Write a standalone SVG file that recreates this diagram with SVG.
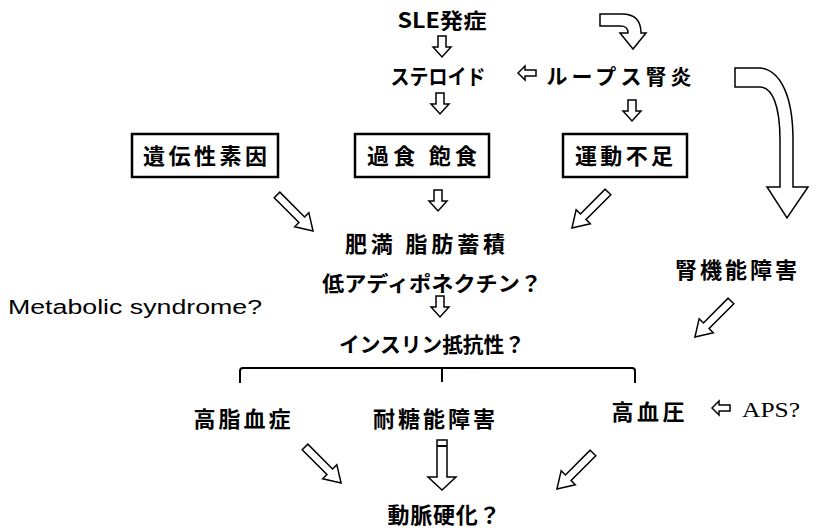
<svg xmlns="http://www.w3.org/2000/svg" xmlns:xlink="http://www.w3.org/1999/xlink" width="818" height="528" viewBox="0 0 818 528">
<style>
.t{font-family:"Noto Sans CJK JP","Liberation Sans",sans-serif;font-weight:bold;font-size:21px;fill:#000;text-anchor:middle}
.k{font-size:22px}
.e{font-family:"Liberation Sans",sans-serif;font-size:20px;fill:#000}
.s{font-family:"Liberation Serif",serif;font-size:21px;fill:#000}
.box{fill:#fff;stroke:#000;stroke-width:2.5}
.ar{fill:#fff;stroke:#000;stroke-width:1.5;stroke-linejoin:miter}
.ln{fill:none;stroke:#000;stroke-width:2}
</style>
<defs>
<path id="dn" d="M-4,0 H4 V11 H9 L0,21 L-9,11 H-4 Z"/>
<path id="lf" d="M0,0 L7,-7 V-3 H18 V3 H7 V7 Z"/>
<path id="dg" d="M-4,0 H4 V35 H10 L0,51 L-10,35 H-4 Z"/>
</defs>
<rect width="818" height="528" fill="#fff"/>
<g id="connectors">
<use xlink:href="#dn" class="ar" x="442" y="36"/>
<use xlink:href="#dn" class="ar" x="440" y="93"/>
<use xlink:href="#dn" class="ar" x="632" y="100"/>
<use xlink:href="#dn" class="ar" x="438" y="190"/>
<use xlink:href="#dn" class="ar" x="440" y="296"/>
<use xlink:href="#lf" class="ar" x="518" y="73"/>
<use xlink:href="#lf" class="ar" x="712" y="408"/>
<path class="ar" d="M600,14 L622,14 C636,14 641,22 641,33 L646,33 L633,49 L620,33 L628,33 C628,28 626,26 620,26 L600,26 Z"/>
<path class="ar" d="M735,68 L760,68 C780,70 793,95 793,140 L793,187 L808,187 L787,218 L767,187 L780,187 L780,140 C780,105 772,87 760,87 L735,87 Z"/>
<use xlink:href="#dg" class="ar" transform="translate(277,195) rotate(-45)"/>
<use xlink:href="#dg" class="ar" transform="translate(608,192) rotate(45)"/>
<use xlink:href="#dg" class="ar" transform="translate(731,301) rotate(45)"/>
<use xlink:href="#dg" class="ar" transform="translate(305,447) rotate(-45)"/>
<use xlink:href="#dg" class="ar" transform="translate(593,453) rotate(45)"/>
<path class="ar" d="M437,440 H447 V477 H456 L442,490 L428,477 H437 Z"/>
<line class="ln" x1="437" y1="446" x2="447" y2="446" stroke-width="1.5"/>
<path class="ln" d="M240,383 V371 Q240,368 243,368 H632 Q635,368 635,371 V383 M442,368 V382"/>
</g>
<g id="n-sle"><text class="t" x="442" y="28" textLength="89" lengthAdjust="spacingAndGlyphs">SLE発症</text></g>
<g id="n-steroid"><text class="t" x="438" y="84" textLength="95" lengthAdjust="spacingAndGlyphs">ステロイド</text></g>
<g id="n-lupus"><text class="t" x="619" y="84" textLength="145" lengthAdjust="spacing">ループス腎炎</text></g>
<g id="n-genetic"><rect class="box" x="132" y="134" width="146" height="43"/><text class="t k" x="205" y="164" textLength="124" lengthAdjust="spacing">遺伝性素因</text></g>
<g id="n-overeat"><rect class="box" x="355" y="134" width="134" height="43"/><text class="t k" x="422" y="164" textLength="110" lengthAdjust="spacing">過食 飽食</text></g>
<g id="n-exercise"><rect class="box" x="563" y="134" width="124" height="43"/><text class="t k" x="624" y="164" textLength="98" lengthAdjust="spacing">運動不足</text></g>
<g id="n-obesity"><text class="t k" x="425" y="252" textLength="160" lengthAdjust="spacing">肥満 脂肪蓄積</text></g>
<g id="n-adipo"><text class="t" x="432" y="291" textLength="220" lengthAdjust="spacingAndGlyphs">低アディポネクチン？</text></g>
<g id="n-renal"><text class="t k" x="736" y="278" textLength="122" lengthAdjust="spacing">腎機能障害</text></g>
<g id="n-metabolic"><text class="e" x="8" y="314" textLength="254" lengthAdjust="spacingAndGlyphs">Metabolic syndrome?</text></g>
<g id="n-insulin"><text class="t" x="432" y="352" textLength="186" lengthAdjust="spacingAndGlyphs">インスリン抵抗性？</text></g>
<g id="n-lipid"><text class="t k" x="242" y="427" textLength="97" lengthAdjust="spacing">高脂血症</text></g>
<g id="n-glucose"><text class="t k" x="434" y="427" textLength="122" lengthAdjust="spacing">耐糖能障害</text></g>
<g id="n-bp"><text class="t k" x="648" y="420" textLength="73" lengthAdjust="spacing">高血圧</text></g>
<g id="n-aps"><text class="s" x="742" y="417" textLength="58" lengthAdjust="spacingAndGlyphs">APS?</text></g>
<g id="n-athero"><text class="t k" x="444" y="523" textLength="113" lengthAdjust="spacing">動脈硬化？</text></g>
</svg>
